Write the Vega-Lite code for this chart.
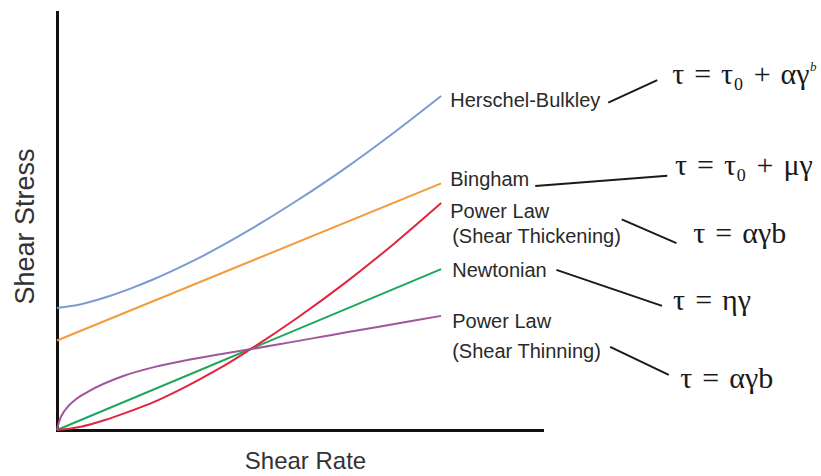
{
  "$schema": "https://vega.github.io/schema/vega-lite/v6.json",
  "autosize": {"type": "none"},
  "width": 485,
  "height": 418,
  "padding": {"left": 57, "top": 12, "right": 279, "bottom": 46},
  "background": "white",
  "config": {"view": {"stroke": null}},
  "datasets": {
    "curves": [
      {"model": "Herschel-Bulkley", "rate": 0, "stress": 2.92},
      {"model": "Herschel-Bulkley", "rate": 0.5, "stress": 3.01},
      {"model": "Herschel-Bulkley", "rate": 1, "stress": 3.17},
      {"model": "Herschel-Bulkley", "rate": 1.5, "stress": 3.37},
      {"model": "Herschel-Bulkley", "rate": 2, "stress": 3.6},
      {"model": "Herschel-Bulkley", "rate": 2.5, "stress": 3.86},
      {"model": "Herschel-Bulkley", "rate": 3, "stress": 4.14},
      {"model": "Herschel-Bulkley", "rate": 3.5, "stress": 4.45},
      {"model": "Herschel-Bulkley", "rate": 4, "stress": 4.78},
      {"model": "Herschel-Bulkley", "rate": 5, "stress": 5.49},
      {"model": "Herschel-Bulkley", "rate": 6, "stress": 6.26},
      {"model": "Herschel-Bulkley", "rate": 7, "stress": 7.1},
      {"model": "Herschel-Bulkley", "rate": 8, "stress": 7.99},
      {"model": "Bingham", "rate": 0, "stress": 2.14},
      {"model": "Bingham", "rate": 8, "stress": 5.9},
      {"model": "Newtonian", "rate": 0, "stress": 0},
      {"model": "Newtonian", "rate": 8, "stress": 3.85},
      {"model": "Shear Thickening", "rate": 0, "stress": 0},
      {"model": "Shear Thickening", "rate": 0.5, "stress": 0.08},
      {"model": "Shear Thickening", "rate": 1, "stress": 0.24},
      {"model": "Shear Thickening", "rate": 1.5, "stress": 0.44},
      {"model": "Shear Thickening", "rate": 2, "stress": 0.66},
      {"model": "Shear Thickening", "rate": 2.5, "stress": 0.93},
      {"model": "Shear Thickening", "rate": 3, "stress": 1.23},
      {"model": "Shear Thickening", "rate": 3.5, "stress": 1.55},
      {"model": "Shear Thickening", "rate": 4, "stress": 1.91},
      {"model": "Shear Thickening", "rate": 5, "stress": 2.68},
      {"model": "Shear Thickening", "rate": 6, "stress": 3.52},
      {"model": "Shear Thickening", "rate": 7, "stress": 4.44},
      {"model": "Shear Thickening", "rate": 8, "stress": 5.43},
      {"model": "Shear Thinning", "rate": 0, "stress": 0},
      {"model": "Shear Thinning", "rate": 0.05, "stress": 0.22},
      {"model": "Shear Thinning", "rate": 0.17, "stress": 0.48},
      {"model": "Shear Thinning", "rate": 0.375, "stress": 0.72},
      {"model": "Shear Thinning", "rate": 0.65, "stress": 0.92},
      {"model": "Shear Thinning", "rate": 1.35, "stress": 1.28},
      {"model": "Shear Thinning", "rate": 2.04, "stress": 1.51},
      {"model": "Shear Thinning", "rate": 2.74, "stress": 1.68},
      {"model": "Shear Thinning", "rate": 3.43, "stress": 1.82},
      {"model": "Shear Thinning", "rate": 4.02, "stress": 1.93},
      {"model": "Shear Thinning", "rate": 4.82, "stress": 2.09},
      {"model": "Shear Thinning", "rate": 5.51, "stress": 2.23},
      {"model": "Shear Thinning", "rate": 6, "stress": 2.33},
      {"model": "Shear Thinning", "rate": 7, "stress": 2.53},
      {"model": "Shear Thinning", "rate": 8, "stress": 2.73}
    ],
    "labels": [
      {"label": "Herschel-Bulkley", "rate": 8.19, "stress": 7.73},
      {"label": "Bingham", "rate": 8.19, "stress": 5.84},
      {"label": "Power Law", "rate": 8.19, "stress": 5.07},
      {"label": "(Shear Thickening)", "rate": 8.23, "stress": 4.47},
      {"label": "Newtonian", "rate": 8.23, "stress": 3.67},
      {"label": "Power Law", "rate": 8.23, "stress": 2.44},
      {"label": "(Shear Thinning)", "rate": 8.23, "stress": 1.72}
    ],
    "equations": [
      {"eq": "τ\u2004=\u2004τ₀\u2004+\u2004αγ", "rate": 12.81, "stress": 8.28},
      {"eq": "τ\u2004=\u2004τ₀\u2004+\u2004μγ", "rate": 12.87, "stress": 6.1},
      {"eq": "τ\u2004=\u2004αγb", "rate": 13.25, "stress": 4.47},
      {"eq": "τ\u2004=\u2004ηγ", "rate": 12.83, "stress": 2.87},
      {"eq": "τ\u2004=\u2004αγb", "rate": 12.98, "stress": 1.0}
    ],
    "superscripts": [
      {"sup": "b", "rate": 15.68, "stress": 8.6}
    ],
    "connectors": [
      {"rate": 11.48, "stress": 7.83, "rate2": 12.5, "stress2": 8.37},
      {"rate": 9.96, "stress": 5.84, "rate2": 12.71, "stress2": 6.08},
      {"rate": 11.76, "stress": 5.04, "rate2": 12.9, "stress2": 4.47},
      {"rate": 10.4, "stress": 3.83, "rate2": 12.6, "stress2": 2.97},
      {"rate": 11.52, "stress": 1.99, "rate2": 12.74, "stress2": 1.32}
    ]
  },
  "encoding": {
    "x": {
      "field": "rate", "type": "quantitative",
      "scale": {"domain": [0, 10.1], "nice": false, "zero": false},
      "axis": {
        "title": "Shear Rate", "ticks": false, "labels": false, "grid": false,
        "domainColor": "#111", "domainWidth": 3, "domainCap": "square",
        "titleFont": "Liberation Sans", "titleFontSize": 24, "titleFontWeight": "normal",
        "titleColor": "#333", "titleX": 248, "titleY": 38, "titleBaseline": "alphabetic"
      }
    },
    "y": {
      "field": "stress", "type": "quantitative",
      "scale": {"domain": [0, 10], "nice": false, "zero": false},
      "axis": {
        "title": "Shear Stress", "ticks": false, "labels": false, "grid": false,
        "domainColor": "#111", "domainWidth": 3, "domainCap": "square",
        "titleFont": "Liberation Sans", "titleFontSize": 27, "titleFontWeight": "normal",
        "titleColor": "#333", "titleX": -24, "titleY": 214, "titleBaseline": "alphabetic", "titleAngle": 270
      }
    }
  },
  "layer": [
    {
      "data": {"name": "curves"},
      "mark": {"type": "line", "strokeWidth": 2, "interpolate": "monotone"},
      "encoding": {
        "color": {
          "field": "model", "type": "nominal", "legend": null,
          "scale": {
            "domain": ["Herschel-Bulkley", "Bingham", "Shear Thickening", "Newtonian", "Shear Thinning"],
            "range": ["#7B9BD1", "#F39A3C", "#E0263F", "#1CA85A", "#A2569A"]
          }
        }
      }
    },
    {
      "data": {"name": "connectors"},
      "mark": {"type": "rule", "color": "#1a1a1a", "strokeWidth": 2},
      "encoding": {
        "x2": {"field": "rate2"},
        "y2": {"field": "stress2"}
      }
    },
    {
      "data": {"name": "labels"},
      "mark": {"type": "text", "align": "left", "baseline": "alphabetic", "font": "Liberation Sans", "fontSize": 20, "color": "#2a2a2a"},
      "encoding": {
        "text": {"field": "label"}
      }
    },
    {
      "data": {"name": "equations"},
      "mark": {"type": "text", "align": "left", "baseline": "alphabetic", "font": "Liberation Serif", "fontSize": 30, "color": "#1a1a1a"},
      "encoding": {
        "text": {"field": "eq"}
      }
    },
    {
      "data": {"name": "superscripts"},
      "mark": {"type": "text", "align": "left", "baseline": "alphabetic", "font": "Liberation Serif", "fontStyle": "italic", "fontSize": 13, "color": "#1a1a1a"},
      "encoding": {
        "text": {"field": "sup"}
      }
    }
  ]
}
